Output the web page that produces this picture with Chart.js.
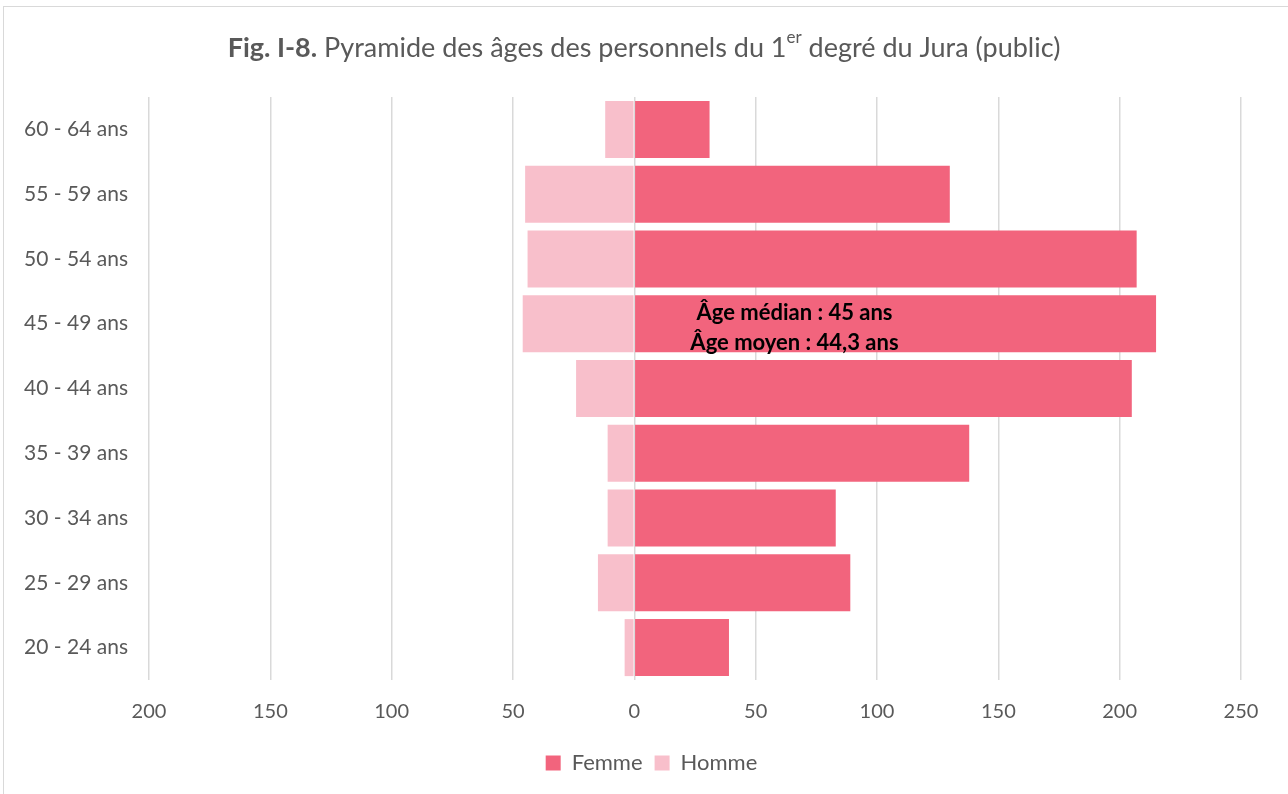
<!DOCTYPE html>
<html>
<head>
<meta charset="utf-8">
<script src="https://cdn.jsdelivr.net/npm/chart.js@4"></script>
<style>
  body { margin: 0; background: #fff; overflow: hidden; }
  #cadre { position: absolute; left: 3px; top: 6px; width: 1300px; height: 800px; border: 1px solid #d9d9d9; }
  #wrap { position: absolute; left: 0; top: 0; width: 1288px; height: 794px; }
</style>
</head>
<body>
<div id="cadre"></div>
<div id="wrap"><canvas id="pyramide"></canvas></div>
<script>
const ages = ['60 - 64 ans', '55 - 59 ans', '50 - 54 ans', '45 - 49 ans', '40 - 44 ans',
              '35 - 39 ans', '30 - 34 ans', '25 - 29 ans', '20 - 24 ans']
const femmes = [31, 130, 207, 215, 205, 138, 83, 89, 39]
const hommes = [-12, -45, -44, -46, -24, -11, -11, -15, -4]
const texteAge = ['Âge médian : 45 ans', 'Âge moyen : 44,3 ans']

const police = 'Lato, "Open Sans", sans-serif'
const gris = '#595959'

Chart.defaults.font.family = police
Chart.defaults.color = gris

// titre avec "Fig. I-8." en gras et "er" en exposant
const titre = {
  id: 'titre',
  afterDraw(chart) {
    const c = chart.ctx
    const parts = [
      { t: 'Fig. I-8.', f: 'bold 27px ' + police, dy: 0 },
      { t: ' Pyramide des âges des personnels du 1', f: '27px ' + police, dy: 0 },
      { t: 'er', f: '17px ' + police, dy: -10 },
      { t: ' degré du Jura (public)', f: '27px ' + police, dy: 0 }
    ]
    c.save()
    c.fillStyle = gris
    c.textBaseline = 'middle'
    let total = 0
    parts.forEach(p => { c.font = p.f; total += c.measureText(p.t).width })
    let x = chart.width / 2 - total / 2
    parts.forEach(p => {
      c.font = p.f
      c.fillText(p.t, x, 48 + p.dy)
      x += c.measureText(p.t).width
    })
    c.restore()
  }
}

// encart âge médian / moyen
const encart = {
  id: 'encart',
  afterDatasetsDraw(chart) {
    const c = chart.ctx
    const x = chart.scales.x.getPixelForValue(66)
    const y = chart.scales.y.getPixelForValue(3)
    c.save()
    c.font = 'bold 22px ' + police
    c.fillStyle = '#000'
    c.textAlign = 'center'
    c.textBaseline = 'middle'
    c.fillText(texteAge[0], x, y - 11)
    c.fillText(texteAge[1], x, y + 19)
    c.restore()
  }
}

// légende un peu décalée vers la droite, comme dans l'original
const decaleLegende = {
  id: 'decaleLegende',
  afterLayout(chart) {
    chart.legend.left += 31
    chart.legend.right += 31
  }
}

new Chart(document.getElementById('pyramide'), {
  type: 'bar',
  data: {
    labels: ages,
    datasets: [
      { label: 'Femme', data: femmes, backgroundColor: '#f2647d' },
      { label: 'Homme', data: hommes, backgroundColor: '#f8bfcb' }
    ]
  },
  options: {
    indexAxis: 'y',
    responsive: true,
    maintainAspectRatio: false,
    animation: false,
    layout: { padding: { top: 97, right: 47, left: 0, bottom: 10 } },
    barPercentage: 1,
    categoryPercentage: 0.88,
    scales: {
      x: {
        stacked: true,
        min: -200,
        max: 250,
        ticks: {
          stepSize: 50,
          font: { size: 20 },
          color: gris,
          padding: 20,
          callback: v => Math.abs(v)
        },
        grid: { color: '#d9d9d9', lineWidth: 1.5, drawTicks: false },
        border: { display: false },
        afterFit(s) { s.height = 60 }
      },
      y: {
        stacked: true,
        ticks: { font: { size: 21 }, color: gris, padding: 13 },
        grid: { display: false },
        border: { display: false },
        afterFit(s) { s.width = 149 }
      }
    },
    plugins: {
      legend: {
        position: 'bottom',
        labels: { boxWidth: 15, boxHeight: 15, font: { size: 22 }, color: gris, padding: 12 }
      },
      tooltip: { enabled: false }
    }
  },
  plugins: [titre, encart, decaleLegende]
})
</script>
</body>
</html>
